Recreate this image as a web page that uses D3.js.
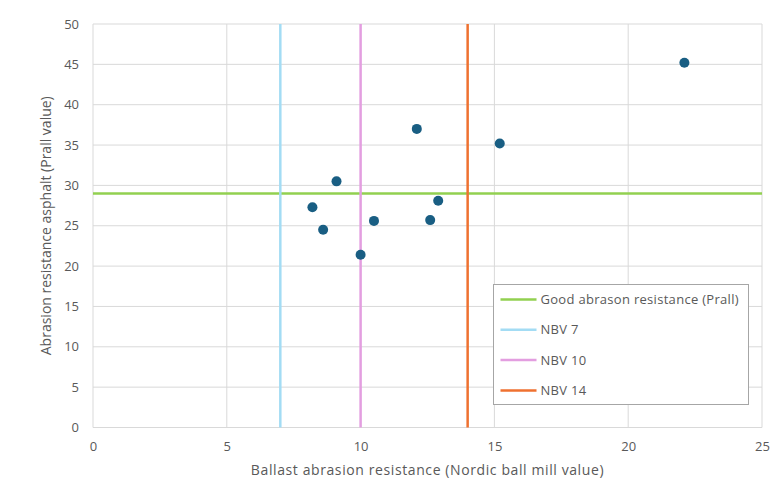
<!DOCTYPE html>
<html>
<head>
<meta charset="utf-8">
<script src="https://cdn.jsdelivr.net/npm/d3@7"></script>
<style>
  html, body { margin: 0; padding: 0; background: #fff; }
  text { font-family: "Open Sans", "Noto Sans", sans-serif; fill: #595959; }
</style>
</head>
<body>
<svg id="chart" width="771" height="483"></svg>
<script>
// Nordic ball mill value (x) vs Prall value (y) for each sample
const ballMill = [12.1, 15.2, 9.1, 8.2, 12.9, 8.6, 10.5, 12.6, 10.0, 22.1];
const prall    = [37.0, 35.2, 30.5, 27.3, 28.1, 24.5, 25.6, 25.7, 21.4, 45.2];

// Threshold lines
const prallLimit = 29;
const nbvNames = ["NBV 7", "NBV 10", "NBV 14"];
const nbvValues = [7, 10, 14];

const legendLabels = ["Good abrason resistance (Prall)", "NBV 7", "NBV 10", "NBV 14"];
const lineColors = ["#92d050", "#a3dcf4", "#e39ee0", "#ef7130"];

const xTicks = [0, 5, 10, 15, 20, 25];
const yTicks = [0, 5, 10, 15, 20, 25, 30, 35, 40, 45, 50];

const svg = d3.select("#chart");
const m = { left: 93, right: 762, top: 24, bottom: 427.5 };

const x = d3.scaleLinear().domain([0, 25]).range([m.left, m.right]);
const y = d3.scaleLinear().domain([0, 50]).range([m.bottom, m.top]);

// Gridlines
const grid = svg.append("g");
grid.selectAll(".gx").data(xTicks).join("line")
  .attr("x1", d => x(d)).attr("x2", d => x(d))
  .attr("y1", m.top).attr("y2", m.bottom)
  .attr("stroke", "#d9d9d9").attr("stroke-width", 1);
grid.selectAll(".gy").data(yTicks).join("line")
  .attr("x1", m.left).attr("x2", m.right)
  .attr("y1", d => y(d)).attr("y2", d => y(d))
  .attr("stroke", "#d9d9d9").attr("stroke-width", 1);

// Tick labels
const xAxis = svg.append("g").attr("transform", `translate(0,${m.bottom})`)
  .call(d3.axisBottom(x).tickValues(xTicks).tickSize(0).tickPadding(14));
const yAxis = svg.append("g").attr("transform", `translate(${m.left},0)`)
  .call(d3.axisLeft(y).tickValues(yTicks).tickSize(0).tickPadding(14));
[xAxis, yAxis].forEach(a => {
  a.select(".domain").remove();
  a.selectAll("text").attr("font-size", 13).attr("fill", "#595959")
    .style("font-family", '"Open Sans", "Noto Sans", sans-serif');
});

// Threshold lines
svg.append("line")
  .attr("x1", m.left).attr("x2", m.right)
  .attr("y1", y(prallLimit)).attr("y2", y(prallLimit))
  .attr("stroke", lineColors[0]).attr("stroke-width", 2.5);
svg.selectAll(".nbv").data(nbvValues).join("line")
  .attr("x1", d => x(d)).attr("x2", d => x(d))
  .attr("y1", m.top).attr("y2", m.bottom)
  .attr("stroke", (d, i) => lineColors[i + 1]).attr("stroke-width", 2.5);

// Sample points
svg.selectAll(".pt").data(ballMill).join("circle")
  .attr("cx", d => x(d))
  .attr("cy", (d, i) => y(prall[i]))
  .attr("r", 5)
  .attr("fill", "#195e83");

// Legend
const lg = svg.append("g");
lg.append("rect")
  .attr("x", 493.5).attr("y", 284.5).attr("width", 255).attr("height", 120)
  .attr("fill", "#fff").attr("stroke", "#a6a6a6").attr("stroke-width", 1);
legendLabels.forEach((t, i) => {
  const yy = 299.5 + i * 30.3;
  lg.append("line").attr("x1", 500.5).attr("x2", 536.5)
    .attr("y1", yy).attr("y2", yy)
    .attr("stroke", lineColors[i]).attr("stroke-width", 2.5);
  lg.append("text").attr("x", 540.5).attr("y", yy).attr("dy", "0.35em")
    .attr("font-size", 13).attr("letter-spacing", 0.3).text(t);
});

// Axis titles
svg.append("text")
  .attr("x", (m.left + m.right) / 2).attr("y", 475)
  .attr("text-anchor", "middle").attr("font-size", 14)
  .attr("letter-spacing", 0.6)
  .text("Ballast abrasion resistance (Nordic ball mill value)");
svg.append("text")
  .attr("transform", `translate(51,${(m.top + m.bottom) / 2}) rotate(-90)`)
  .attr("text-anchor", "middle").attr("font-size", 14)
  .text("Abrasion resistance asphalt (Prall value)");
</script>
</body>
</html>
